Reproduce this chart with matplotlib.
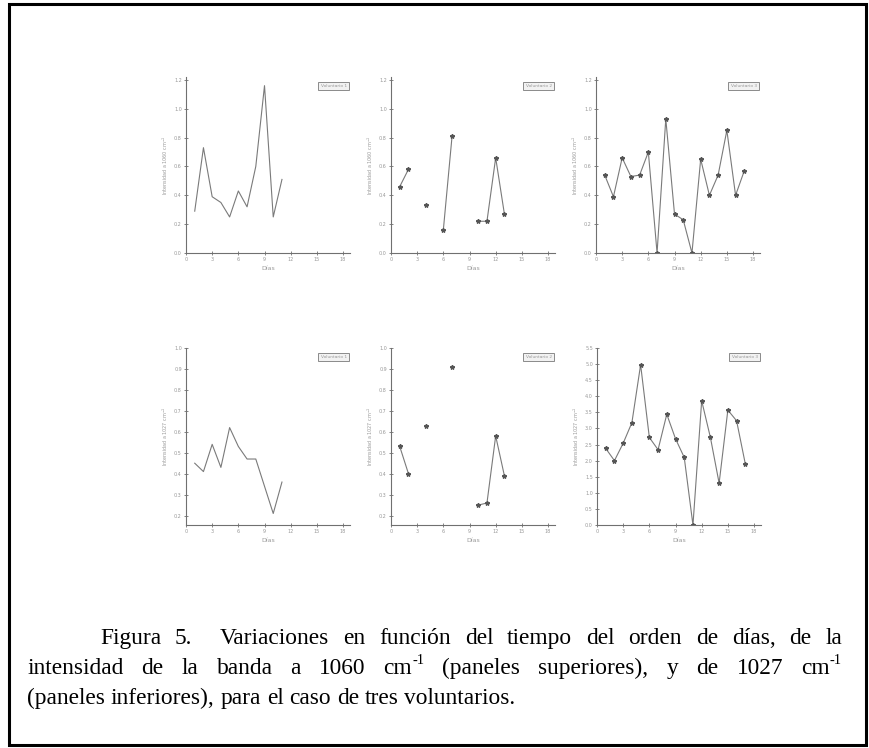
import numpy as np
import matplotlib.pyplot as plt
from matplotlib.patches import Rectangle

nan = np.nan

# valores por voluntario (dias 1..n)
dias_1 = list(range(1, 12))
v1_1060 = [0.29, 0.73, 0.39, 0.35, 0.25, 0.43, 0.32, 0.60, 1.16, 0.25, 0.51]
dias_2 = list(range(1, 14))
v2_1060 = [0.46, 0.58, nan, 0.33, nan, 0.16, 0.81, nan, nan, 0.22, 0.22, 0.66, 0.27]
dias_3 = list(range(1, 18))
v3_1060 = [0.54, 0.39, 0.66, 0.53, 0.54, 0.70, 0.00, 0.93, 0.27, 0.23, 0.00,
           0.65, 0.40, 0.54, 0.85, 0.40, 0.57]

v1_1027 = [0.45, 0.41, 0.54, 0.43, 0.62, 0.53, 0.47, 0.47, 0.34, 0.21, 0.36]
v2_1027 = [0.53, 0.40, nan, 0.63, nan, nan, 0.91, nan, nan, 0.25, 0.26, 0.58, 0.39]
v3_1027 = [2.38, 2.00, 2.54, 3.18, 4.98, 2.72, 2.34, 3.44, 2.68, 2.10, 0.00,
           3.86, 2.72, 1.30, 3.57, 3.24, 1.90]

x_ticks = [0, 3, 6, 9, 12, 15, 18]
y_ticks_sup = [0, 0.2, 0.4, 0.6, 0.8, 1.0, 1.2]
y_ticks_inf = [0.2, 0.3, 0.4, 0.5, 0.6, 0.7, 0.8, 0.9, 1.0]
y_ticks_v3 = [0, 0.5, 1.0, 1.5, 2.0, 2.5, 3.0, 3.5, 4.0, 4.5, 5.0, 5.5]

W, H = 870, 748
fig = plt.figure(figsize=(W / 100, H / 100), dpi=100)

# marco exterior
fig.patches.append(Rectangle((9 / W, 3 / H), 857 / W, 741 / H, transform=fig.transFigure,
                             fill=False, edgecolor='black', linewidth=2.2))

gris = '#7a7a7a'


def panel(x0, y0, x1, y1, dias, vals, ylim, yticks, ylabel, nombre, marcas):
    ax = fig.add_axes([x0 / W, 1 - y1 / H, (x1 - x0) / W, (y1 - y0) / H])
    if marcas:
        ax.plot(dias, vals, color=gris, lw=0.8, marker='*', ms=3.2,
                mfc='#555555', mec='#555555')
    else:
        ax.plot(dias, vals, color=gris, lw=0.8)
    ax.set_xlim(0, 18.8)
    ax.set_ylim(*ylim)
    ax.set_xticks(x_ticks)
    ax.set_yticks(yticks)
    ax.set_yticklabels([f'{t:.1f}' for t in yticks])
    for s in ['top', 'right']:
        ax.spines[s].set_visible(False)
    for s in ['left', 'bottom']:
        ax.spines[s].set_color('#707070')
        ax.spines[s].set_linewidth(0.8)
    ax.tick_params(direction='inout', length=3, width=0.6, color='#707070',
                   labelsize=3.5, labelcolor='#999999', pad=1.5)
    ax.set_xlabel('Días', fontsize=4.5, color='#999999', labelpad=3)
    ax.set_ylabel(ylabel, fontsize=3.5, color='#999999', labelpad=3)
    ax.patch.set_alpha(0)
    ax.text(0.9, 0.95, nombre, transform=ax.transAxes, fontsize=3.2, color='#999999',
            ha='center', va='center',
            bbox=dict(boxstyle='square,pad=0.5', fc='#f2f2f2', ec='#8a8a8a', lw=0.7))
    return ax


lab_sup = 'Intensidad a 1060 cm$^{-1}$'
lab_inf = 'Intensidad a 1027 cm$^{-1}$'
panel(186, 77, 350, 253, dias_1, v1_1060, (0, 1.22), y_ticks_sup, lab_sup, 'Voluntario 1', False)
panel(391, 77, 555, 253, dias_2, v2_1060, (0, 1.22), y_ticks_sup, lab_sup, 'Voluntario 2', True)
panel(596, 77, 760, 253, dias_3, v3_1060, (0, 1.22), y_ticks_sup, lab_sup, 'Voluntario 3', True)
panel(186, 348, 350, 525, dias_1, v1_1027, (0.155, 1.0), y_ticks_inf, lab_inf, 'Voluntario 1', False)
panel(391, 348, 555, 525, dias_2, v2_1027, (0.155, 1.0), y_ticks_inf, lab_inf, 'Voluntario 2', True)
panel(597, 348, 761, 525, dias_3, v3_1027, (0, 5.5), y_ticks_v3, lab_inf, 'Voluntario 3', True)

# pie de figura, justificado a mano
fs = 16.8
fam = 'Liberation Serif'
renderer = fig.canvas.get_renderer()


def ancho(txt, size):
    t = fig.text(0, 0, txt, fontsize=size, family=fam)
    w = t.get_window_extent(renderer).width
    t.remove()
    return w


def palabra_ancho(segs):
    return sum(ancho(s, fs * 0.62 if sup else fs) for s, sup in segs)


def dibujar_palabra(x, y, segs):
    for s, sup in segs:
        size = fs * 0.62 if sup else fs
        fig.text(x / W, 1 - (y - (10 if sup else 0)) / H, s, fontsize=size, family=fam,
                 va='baseline', ha='left')
        x += ancho(s, size)


def linea(texto, x0, x1, y, justificar):
    palabras = []
    for w in texto.split(' '):
        if w.endswith('^-1'):
            palabras.append([(w[:-3], False), ('-1', True)])
        else:
            palabras.append([(w, False)])
    anchos = [palabra_ancho(p) for p in palabras]
    esp = ancho('a b', fs) - ancho('ab', fs)
    if justificar and len(palabras) > 1:
        esp = (x1 - x0 - sum(anchos)) / (len(palabras) - 1)
    x = x0
    for p, w in zip(palabras, anchos):
        dibujar_palabra(x, y, p)
        x += w + esp


linea('Figura 5.  Variaciones en función del tiempo del orden de días, de la', 100, 842, 644, True)
linea('intensidad de la banda a 1060 cm^-1 (paneles superiores), y de 1027 cm^-1', 27, 842, 674, True)
linea('(paneles inferiores), para el caso de tres voluntarios.', 27, 842, 704, False)

fig.savefig('out.png', dpi=100)
